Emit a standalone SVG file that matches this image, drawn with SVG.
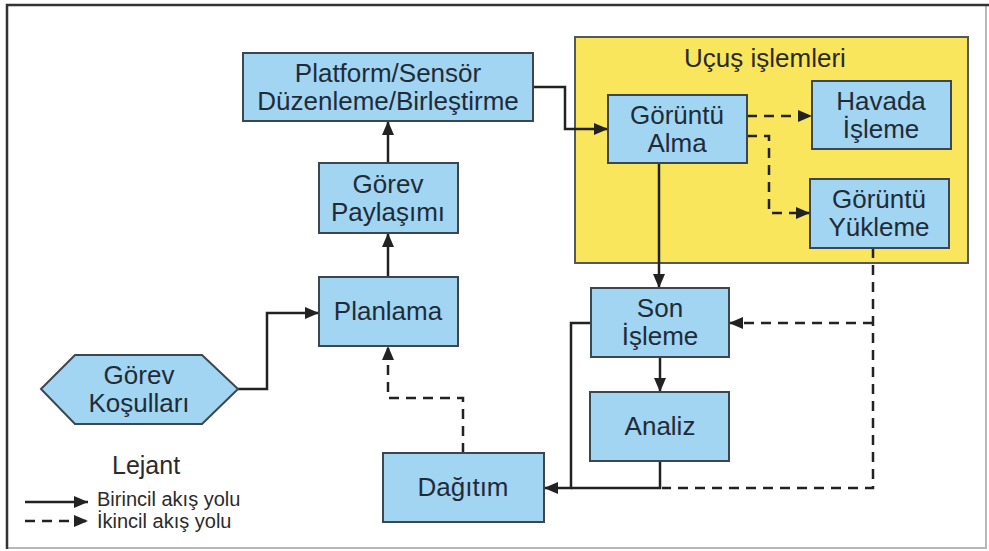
<svg xmlns="http://www.w3.org/2000/svg" width="989" height="551" viewBox="0 0 989 551">
  <style>
    .box { fill: #a1d5f2; stroke: #3c4650; stroke-width: 2; }
    .group { fill: #f9e65c; stroke: #55585a; stroke-width: 2; }
    .lbl { font-family: "Liberation Sans", Arial, sans-serif; font-size: 26px; fill: #1f2c38; text-anchor: middle; }
    .title { font-family: "Liberation Sans", Arial, sans-serif; font-size: 26px; fill: #2a2a20; text-anchor: middle; }
    .leg { font-family: "Liberation Sans", Arial, sans-serif; fill: #2b2b2b; }
    .flow { fill: none; stroke: #222; stroke-width: 2.5; }
    .flow.sec { stroke-dasharray: 10 7; }
    .flow.arr { marker-end: url(#head); }
  </style>
  <defs>
    <marker id="head" markerUnits="userSpaceOnUse" markerWidth="14" markerHeight="13" viewBox="0 0 14 13" refX="14" refY="6.5" orient="auto">
      <path d="M0,0.5 L14,6.5 L0,12.5 z" fill="#222"/>
    </marker>
  </defs>

  <!-- page frame -->
  <rect x="7" y="5" width="979" height="543" fill="#ffffff" stroke="#b8b8b8" stroke-width="2"/>
  <path d="M7,549 V5 H989" fill="none" stroke="#333" stroke-width="2.5"/>

  <!-- flight operations region -->
  <g id="ucus-islemleri">
    <rect class="group" x="575" y="37" width="393" height="226"/>
    <text class="title" x="765" y="67">Uçuş işlemleri</text>
  </g>

  <!-- connectors -->
  <g id="connectors">
    <!-- primary flow -->
    <path class="flow arr" d="M238,389 H267 V313 H319"/>
    <path class="flow arr" d="M388,277 V233"/>
    <path class="flow arr" d="M388,163 V121"/>
    <path class="flow arr" d="M533,87 H565 V129 H608"/>
    <path class="flow arr" d="M659,163 V288"/>
    <path class="flow arr" d="M660,357 V392"/>
    <path class="flow" d="M660,461 V488 H571"/>
    <path class="flow arr" d="M591,323 H571 V488 H544"/>
    <!-- secondary flow -->
    <path class="flow sec arr" d="M747,116 H812"/>
    <path class="flow sec arr" d="M747,136 H769 V213 H810"/>
    <path class="flow sec" d="M873,248 V488 H662"/>
    <path class="flow sec arr" d="M873,323 H729"/>
    <path class="flow sec arr" d="M463,453 V398 H388 V346"/>
  </g>

  <g id="platform-sensor">
    <rect class="box" x="243" y="53" width="290" height="68"/>
    <text class="lbl" x="388" y="82">Platform/Sensör</text>
    <text class="lbl" x="388" y="110">Düzenleme/Birleştirme</text>
  </g>

  <g id="gorev-paylasimi">
    <rect class="box" x="319" y="163" width="139" height="70"/>
    <text class="lbl" x="388" y="193">Görev</text>
    <text class="lbl" x="388" y="221">Paylaşımı</text>
  </g>

  <g id="planlama">
    <rect class="box" x="319" y="277" width="139" height="69"/>
    <text class="lbl" x="388" y="320">Planlama</text>
  </g>

  <g id="gorev-kosullari">
    <polygon class="box" points="41,389 75,355 202,355 238,389 202,424 75,424"/>
    <text class="lbl" x="139" y="384">Görev</text>
    <text class="lbl" x="139" y="412">Koşulları</text>
  </g>

  <g id="goruntu-alma">
    <rect class="box" x="608" y="95" width="139" height="68"/>
    <text class="lbl" x="677" y="124">Görüntü</text>
    <text class="lbl" x="677" y="152">Alma</text>
  </g>

  <g id="havada-isleme">
    <rect class="box" x="812" y="81" width="139" height="68"/>
    <text class="lbl" x="881" y="110">Havada</text>
    <text class="lbl" x="881" y="138">İşleme</text>
  </g>

  <g id="goruntu-yukleme">
    <rect class="box" x="810" y="179" width="139" height="69"/>
    <text class="lbl" x="879" y="208">Görüntü</text>
    <text class="lbl" x="879" y="236">Yükleme</text>
  </g>

  <g id="son-isleme">
    <rect class="box" x="591" y="288" width="138" height="69"/>
    <text class="lbl" x="660" y="317">Son</text>
    <text class="lbl" x="660" y="345">İşleme</text>
  </g>

  <g id="analiz">
    <rect class="box" x="590" y="392" width="139" height="69"/>
    <text class="lbl" x="660" y="435">Analiz</text>
  </g>

  <g id="dagitim">
    <rect class="box" x="383" y="453" width="161" height="69"/>
    <text class="lbl" x="463" y="496">Dağıtım</text>
  </g>

  <!-- legend -->
  <g id="lejant">
    <text class="leg" x="112" y="474" font-size="25">Lejant</text>
    <path class="flow arr" d="M25,502 H88"/>
    <text class="leg" x="97" y="506" font-size="20">Birincil akış yolu</text>
    <path class="flow sec arr" d="M25,521 H88"/>
    <text class="leg" x="97" y="528" font-size="20">İkincil akış yolu</text>
  </g>
</svg>
